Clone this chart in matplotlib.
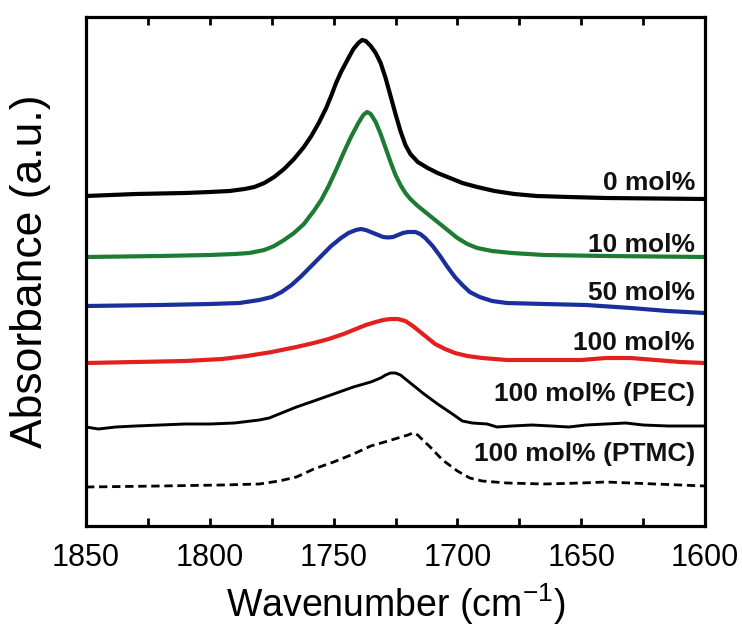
import matplotlib
matplotlib.use("Agg")
import matplotlib.pyplot as plt
from matplotlib.ticker import MultipleLocator


## Data (absorbance in a.u. relative to each baseline)

wn_0 = [1850, 1830, 1810, 1800, 1792, 1786, 1782, 1778, 1774, 1770, 1766, 1762, 1759,
        1756, 1753, 1751, 1749, 1747, 1744, 1742, 1740, 1738.5, 1737, 1735, 1733, 1731,
        1729, 1727, 1725, 1723, 1721, 1719, 1716, 1712, 1708, 1703, 1698, 1692, 1685,
        1677, 1668, 1655, 1640, 1600]
abs_0 = [0.02, 0.04, 0.05, 0.06, 0.07, 0.09, 0.11, 0.15, 0.21, 0.29, 0.39, 0.51, 0.62,
         0.75, 0.90, 1.02, 1.15, 1.26, 1.40, 1.49, 1.55, 1.58, 1.57, 1.52, 1.45, 1.35,
         1.20, 1.02, 0.84, 0.67, 0.53, 0.44, 0.36, 0.30, 0.25, 0.20, 0.15, 0.11, 0.07,
         0.04, 0.02, 0.01, 0.00, -0.01]

wn_10 = [1850, 1820, 1800, 1790, 1784, 1778, 1774, 1770, 1766, 1762, 1758, 1755, 1752,
         1749, 1746, 1743, 1740, 1738, 1736.5, 1735, 1733, 1731, 1729, 1727, 1725, 1723,
         1721, 1719, 1716, 1712, 1708, 1704, 1700, 1696, 1692, 1686, 1678, 1665, 1640,
         1600]
abs_10 = [0.00, 0.01, 0.02, 0.03, 0.04, 0.07, 0.11, 0.17, 0.24, 0.33, 0.46, 0.57, 0.71,
          0.87, 1.04, 1.20, 1.34, 1.42, 1.45, 1.43, 1.35, 1.23, 1.09, 0.95, 0.82, 0.72,
          0.64, 0.58, 0.51, 0.43, 0.35, 0.27, 0.19, 0.13, 0.09, 0.06, 0.04, 0.02, 0.01,
          0.00]

wn_50 = [1850, 1820, 1800, 1788, 1780, 1775, 1771, 1767, 1763, 1759, 1755, 1751, 1747,
         1744, 1741, 1739, 1737, 1735, 1732, 1730, 1728, 1726, 1724, 1722, 1720, 1717,
         1715, 1713, 1710, 1707, 1704, 1701, 1698, 1695, 1691, 1686, 1680, 1665, 1648,
         1630, 1615, 1600]
abs_50 = [0.00, 0.01, 0.02, 0.03, 0.06, 0.09, 0.14, 0.21, 0.30, 0.40, 0.50, 0.60, 0.68,
          0.73, 0.76, 0.77, 0.76, 0.74, 0.71, 0.69, 0.685, 0.69, 0.71, 0.73, 0.74, 0.74,
          0.72, 0.68, 0.60, 0.50, 0.39, 0.29, 0.21, 0.14, 0.09, 0.05, 0.03, 0.02, 0.01,
          -0.02, -0.05, -0.07]

wn_100 = [1850, 1830, 1810, 1795, 1785, 1775, 1765, 1758, 1752, 1746, 1741, 1737, 1733,
          1730, 1727, 1724, 1721, 1718, 1715, 1712, 1709, 1705, 1701, 1696, 1690, 1680,
          1665, 1650, 1640, 1630, 1620, 1610, 1600]
abs_100 = [0.00, 0.01, 0.02, 0.04, 0.07, 0.11, 0.16, 0.20, 0.24, 0.29, 0.34, 0.38, 0.41,
           0.43, 0.44, 0.44, 0.42, 0.37, 0.31, 0.25, 0.19, 0.14, 0.10, 0.07, 0.05, 0.03,
           0.03, 0.03, 0.05, 0.05, 0.03, 0.01, 0.00]

wn_pec = [1850, 1845, 1838, 1830, 1820, 1810, 1800, 1790, 1780, 1776, 1772, 1765, 1758,
          1750, 1742, 1735, 1731, 1729, 1727, 1725, 1723, 1721, 1718, 1714, 1708, 1702,
          1698, 1694, 1688, 1684, 1678, 1670, 1662, 1655, 1648, 1640, 1632, 1625, 1615,
          1600]
abs_pec = [0.00, -0.02, 0.00, 0.01, 0.02, 0.03, 0.03, 0.04, 0.07, 0.09, 0.13, 0.20, 0.26,
           0.33, 0.40, 0.45, 0.49, 0.52, 0.54, 0.54, 0.52, 0.48, 0.42, 0.34, 0.23, 0.13,
           0.06, 0.04, 0.03, 0.00, 0.01, 0.02, 0.01, 0.00, 0.02, 0.03, 0.04, 0.02, 0.01,
           0.01]

wn_ptmc = [1850, 1820, 1795, 1780, 1772, 1765, 1758, 1750, 1742, 1735, 1728, 1724, 1720,
           1718, 1716, 1714, 1711, 1706, 1700, 1695, 1690, 1680, 1665, 1650, 1640, 1630,
           1620, 1610, 1600]
abs_ptmc = [0.00, 0.01, 0.02, 0.03, 0.06, 0.10, 0.18, 0.25, 0.33, 0.41, 0.46, 0.49, 0.52,
            0.54, 0.52, 0.47, 0.40, 0.27, 0.16, 0.09, 0.06, 0.04, 0.03, 0.04, 0.05, 0.04,
            0.03, 0.02, 0.01]

# vertical offsets of the stacked spectra and label heights
offsets = [3.28, 2.69, 2.20, 1.63, 0.99, 0.39]
label_y = [3.36, 2.74, 2.26, 1.76, 1.25, 0.65]
labels = ["0 mol%", "10 mol%", "50 mol%", "100 mol%", "100 mol% (PEC)", "100 mol% (PTMC)"]

xticks = [1850, 1800, 1750, 1700, 1650, 1600]


## Styles
plt.rcParams["font.family"] = ["Liberation Sans", "DejaVu Sans"]
plt.rcParams["mathtext.fontset"] = "custom"
plt.rcParams["mathtext.rm"] = "Liberation Sans"

colors = ["#000000", "#1e7b34", "#1b2f9c", "#e3201e", "#000000", "#000000"]
widths = [3.0, 3.0, 3.0, 3.0, 2.1, 2.0]
styles = ["-", "-", "-", "-", "-", (0, (3, 1.7))]


## Plot
fig = plt.figure(figsize=(7.42, 6.30), dpi=100)
ax = fig.add_axes([86 / 742, 104 / 630, 619 / 742, 509 / 630])

spectra = [(wn_0, abs_0), (wn_10, abs_10), (wn_50, abs_50),
           (wn_100, abs_100), (wn_pec, abs_pec), (wn_ptmc, abs_ptmc)]

for i, (wn, ab) in enumerate(spectra):
    ax.plot(wn, [a + offsets[i] for a in ab], color=colors[i], lw=widths[i],
            ls=styles[i], solid_joinstyle="round", solid_capstyle="round")
    ax.text(1604, label_y[i], labels[i], ha="right", va="baseline",
            fontsize=19, fontweight="bold", color="#111111")

ax.set_xlim(1850, 1600)
ax.set_ylim(0, 5.09)
ax.set_yticks([])
ax.set_xticks(xticks)
ax.xaxis.set_minor_locator(MultipleLocator(25))
ax.tick_params(axis="x", which="both", direction="in", top=True, length=6,
               width=2, pad=12, labelsize=22)
for sp in ax.spines.values():
    sp.set_linewidth(2.3)

ax.set_xlabel(r"Wavenumber (cm$^{\mathregular{-1}}$)", fontsize=27, labelpad=6)
ax.set_ylabel("Absorbance (a.u.)", fontsize=32)
ax.yaxis.set_label_coords(-0.056, 0.5)

fig.savefig("out.png", dpi=100)
